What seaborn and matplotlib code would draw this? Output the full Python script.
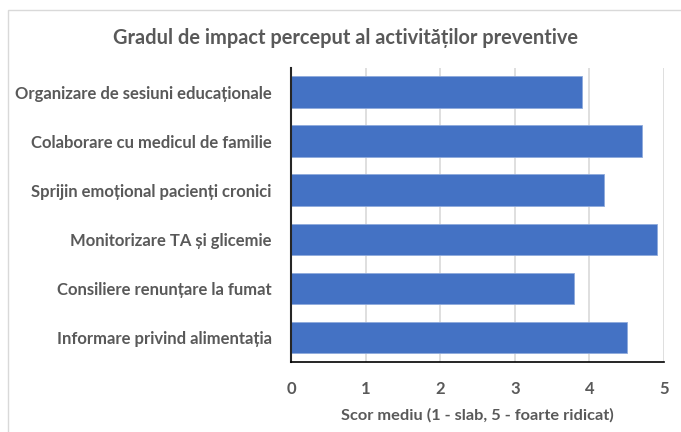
import matplotlib
matplotlib.use("Agg")
import matplotlib.pyplot as plt
import seaborn as sns
import pandas as pd
from matplotlib.patches import Rectangle

# Chart data
activities = [
    "Organizare de sesiuni educaționale",
    "Colaborare cu medicul de familie",
    "Sprijin emoțional pacienți cronici",
    "Monitorizare TA și glicemie",
    "Consiliere renunțare la fumat",
    "Informare privind alimentația",
]
scores = [3.9, 4.7, 4.2, 4.9, 3.8, 4.5]
x_ticks = [0, 1, 2, 3, 4, 5]

df = pd.DataFrame({"Activitate": activities, "Scor": scores})

sns.set_theme(style="white")
plt.rcParams["font.family"] = ["Lato", "DejaVu Sans"]

text_col = "#595959"
fig = plt.figure(figsize=(6.81, 4.32), dpi=100)
ax = fig.add_axes([0.4273, 0.162, 0.5477, 0.681])

sns.barplot(data=df, x="Scor", y="Activitate", color="#4472C4", saturation=1,
            width=0.65, edgecolor="#8FAADC", linewidth=0.6, ax=ax)

ax.set_xlim(0, 5)
ax.set_xticks(x_ticks)
ax.set_xticklabels([str(t) for t in x_ticks], fontsize=12, fontweight="bold", color=text_col)
ax.tick_params(axis="x", length=0, pad=14)
ax.tick_params(axis="y", length=0, pad=14)
for lab in ax.get_yticklabels():
    lab.set_fontsize(12)
    lab.set_fontweight("bold")
    lab.set_color(text_col)

ax.grid(axis="x", color="#D9D9D9", linewidth=1.2)
ax.set_axisbelow(True)
for side in ["top", "right"]:
    ax.spines[side].set_visible(False)
ax.spines["left"].set_color("#262626")
ax.spines["left"].set_linewidth(1.5)
ax.spines["bottom"].set_color("#000000")
ax.spines["bottom"].set_linewidth(1.2)

ax.set_ylabel("")
ax.set_xlabel("Scor mediu (1 - slab, 5 - foarte ridicat)", fontsize=11.8,
              fontweight="bold", color=text_col, labelpad=8)

fig.text(0.508, 0.912, "Gradul de impact perceput al activităților preventive",
         ha="center", va="center", fontsize=14.4, fontweight="bold", color=text_col)

# light chart frame
fig.patches.append(Rectangle((8 / 681, -0.01), 1.0, 1 - 10 / 432 + 0.01,
                             transform=fig.transFigure, fill=False,
                             edgecolor="#D9D9D9", linewidth=1.0))

fig.savefig("out.png", dpi=100)
